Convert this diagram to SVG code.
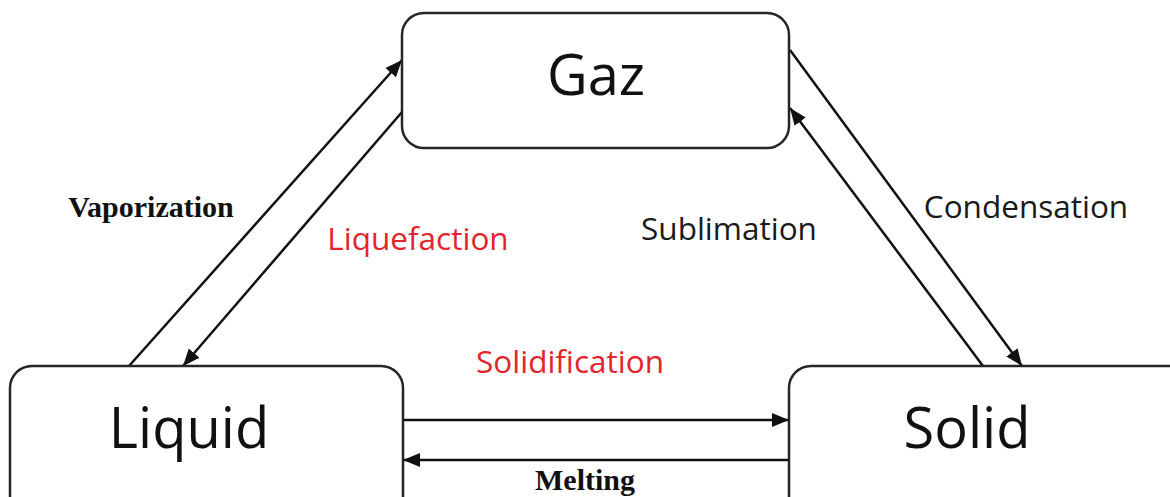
<svg xmlns="http://www.w3.org/2000/svg" width="1170" height="497" viewBox="0 0 1170 497">
<style>
.box{fill:#fff;stroke:#262626;stroke-width:2.5}
.node{font-family:"Open Sans","Noto Sans",sans-serif;font-size:56px;fill:#111;text-anchor:middle}
.lbl{font-family:"Open Sans","Noto Sans",sans-serif;font-size:31.5px;fill:#1a1a1a;text-anchor:middle}
.red{fill:#e3242b}
.ser{font-family:"Liberation Serif","Times New Roman",serif;font-weight:bold;font-size:30px;fill:#111;text-anchor:middle}
.edge{stroke:#111;stroke-width:2.5;fill:none;marker-end:url(#ah)}
</style>
<defs>
<marker id="ah" markerUnits="userSpaceOnUse" markerWidth="20" markerHeight="16" refX="17" refY="7" orient="auto">
<path d="M0,0 L17,7 L0,14 Z" fill="#111"/>
</marker>
</defs>
<rect width="1170" height="497" fill="#fff"/>
<g id="connectors">
<line class="edge" x1="129" y1="366" x2="402" y2="60"/>
<line class="edge" x1="402" y1="112" x2="183" y2="366"/>
<line class="edge" x1="790" y1="50" x2="1022" y2="366"/>
<line class="edge" x1="983" y1="366" x2="790" y2="108"/>
<line class="edge" x1="403" y1="420" x2="789" y2="420"/>
<line class="edge" x1="789" y1="460" x2="403" y2="460"/>
</g>
<g id="gaz">
<rect class="box" x="402" y="13" width="387" height="135" rx="22"/>
<text class="node" x="596" y="95">Gaz</text>
</g>
<g id="liquid">
<rect class="box" x="10" y="366" width="393" height="160" rx="22"/>
<text class="node" x="189" y="448">Liquid</text>
</g>
<g id="solid">
<rect class="box" x="789" y="366" width="410" height="160" rx="22"/>
<text class="node" x="967" y="448">Solid</text>
</g>
<g id="labels">
<text class="ser" x="151" y="217">Vaporization</text>
<text class="lbl red" x="418" y="250">Liquefaction</text>
<text class="lbl" x="729" y="240">Sublimation</text>
<text class="lbl" x="1026" y="218">Condensation</text>
<text class="lbl red" x="570" y="373">Solidification</text>
<text class="ser" x="585" y="490">Melting</text>
</g>
</svg>
